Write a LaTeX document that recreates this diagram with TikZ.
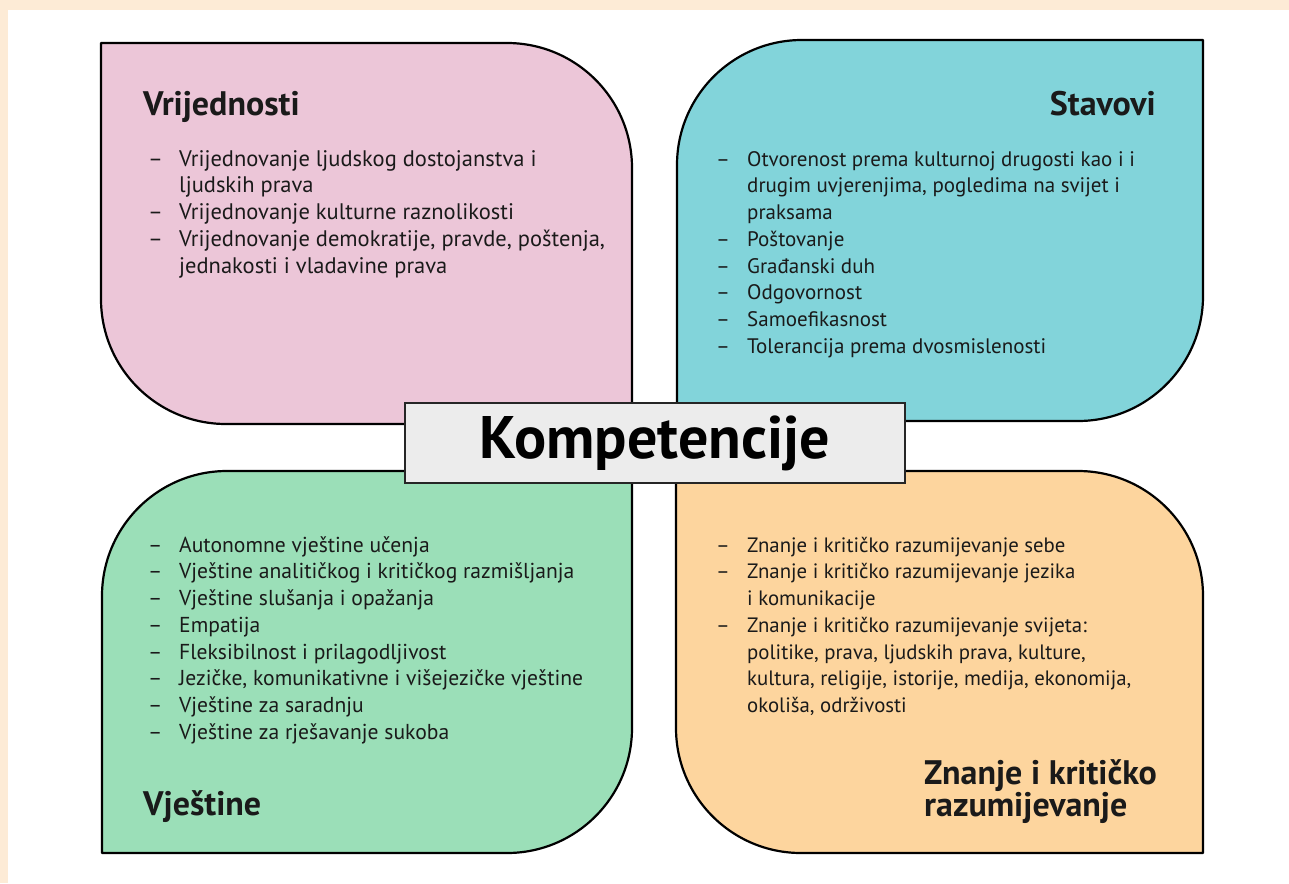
\documentclass[tikz,border=0pt]{standalone}
\usepackage{fontspec}
\setmainfont{PT Sans}
\definecolor{peach}{RGB}{253,235,214}
\definecolor{cpink}{RGB}{236,198,216}
\definecolor{cteal}{RGB}{130,212,218}
\definecolor{cgreen}{RGB}{155,223,184}
\definecolor{corange}{RGB}{253,213,158}
\definecolor{cgray}{RGB}{236,236,236}
\definecolor{ink}{RGB}{26,26,26}
\newcommand\li[1]{\makebox[31pt][l]{–}#1}
\newcommand\lc[1]{\hspace*{31pt}#1}
\newcommand\tp{\rule{0pt}{20pt}}
\begin{document}
\begin{tikzpicture}[x=1pt,y=-1pt,
  quad/.style={draw=black,line width=2.2pt,line join=round},
  title/.style={font=\fontsize{34}{30}\selectfont\bfseries,text=ink,inner sep=0pt},
  items/.style={font=\fontsize{21}{26.7}\selectfont,text=ink,align=left,inner sep=0pt,anchor=north west},
  itemspink/.style={items,font=\fontsize{22.5}{26.7}\selectfont},
  itemsgreen/.style={items,font=\fontsize{21.6}{26.7}\selectfont},
  itemsorange/.style={items,font=\fontsize{20.8}{26.7}\selectfont},
  centerbox/.style={draw=black!85,line width=1.5pt,fill=cgray,minimum width=500pt,minimum height=80pt,inner sep=0pt,font=\fontsize{60}{64}\selectfont\bfseries,text=black}
]
\useasboundingbox (0,0) rectangle (1289,883);
\fill[white] (0,0) rectangle (1289,883);
\fill[peach] (0,0) rectangle (1289,10);
\fill[peach] (0,0) rectangle (8,883);
\def\R{125}
% pink
\path[quad,fill=cpink] (101,43) -- (632-\R,43) arc[start angle=270,end angle=360,radius=\R] -- (632,424) -- (101+\R,424) arc[start angle=90,end angle=180,radius=\R] -- cycle;
% teal
\path[quad,fill=cteal] (677+\R,40) -- (1203,40) -- (1203,421-\R) arc[start angle=0,end angle=90,radius=\R] -- (677,421) -- (677,40+\R) arc[start angle=180,end angle=270,radius=\R] -- cycle;
% green
\path[quad,fill=cgreen] (102+\R,471) -- (632,471) -- (632,853-\R) arc[start angle=0,end angle=90,radius=\R] -- (102,853) -- (102,471+\R) arc[start angle=180,end angle=270,radius=\R] -- cycle;
% orange
\path[quad,fill=corange] (676,471) -- (1203-\R,471) arc[start angle=270,end angle=360,radius=\R] -- (1203,853) -- (676+\R,853) arc[start angle=90,end angle=180,radius=\R] -- cycle;

\node[title,anchor=base west] (t1) at (143,115) {Vrijednosti};
\node[title,anchor=base east] (t2) at (1156,115) {Stavovi};
\node[title,anchor=base west] (t3) at (143,815) {Vještine};
\node[title,anchor=north west,align=left] (t4) at (924,756) {\rule{0pt}{28pt}Znanje i kritičko\\razumijevanje};

\node[itemspink] (l1) at (148,146) {\tp\li{Vrijednovanje ljudskog dostojanstva i}\\
\lc{ljudskih prava}\\
\li{Vrijednovanje kulturne raznolikosti}\\
\li{Vrijednovanje demokratije, pravde, poštenja,}\\
\lc{jednakosti i vladavine prava}};

\node[items] (l2) at (716,146) {\tp\li{Otvorenost prema kulturnoj drugosti kao i i}\\
\lc{drugim uvjerenjima, pogledima na svijet i}\\
\lc{praksama}\\
\li{Poštovanje}\\
\li{Građanski duh}\\
\li{Odgovornost}\\
\li{Samoefikasnost}\\
\li{Tolerancija prema dvosmislenosti}};

\node[itemsgreen] (l3) at (148,532) {\tp\li{Autonomne vještine učenja}\\
\li{Vještine analitičkog i kritičkog razmišljanja}\\
\li{Vještine slušanja i opažanja}\\
\li{Empatija}\\
\li{Fleksibilnost i prilagodljivost}\\
\li{Jezičke, komunikativne i višejezičke vještine}\\
\li{Vještine za saradnju}\\
\li{Vještine za rješavanje sukoba}};

\node[itemsorange] (l4) at (716,532) {\tp\li{Znanje i kritičko razumijevanje sebe}\\
\li{Znanje i kritičko razumijevanje jezika}\\
\lc{i komunikacije}\\
\li{Znanje i kritičko razumijevanje svijeta:}\\
\lc{politike, prava, ljudskih prava, kulture,}\\
\lc{kultura, religije, istorije, medija, ekonomija,}\\
\lc{okoliša, održivosti}};

\node[centerbox] (k) at (655,443) {Kompetencije};
\end{tikzpicture}
\end{document}
